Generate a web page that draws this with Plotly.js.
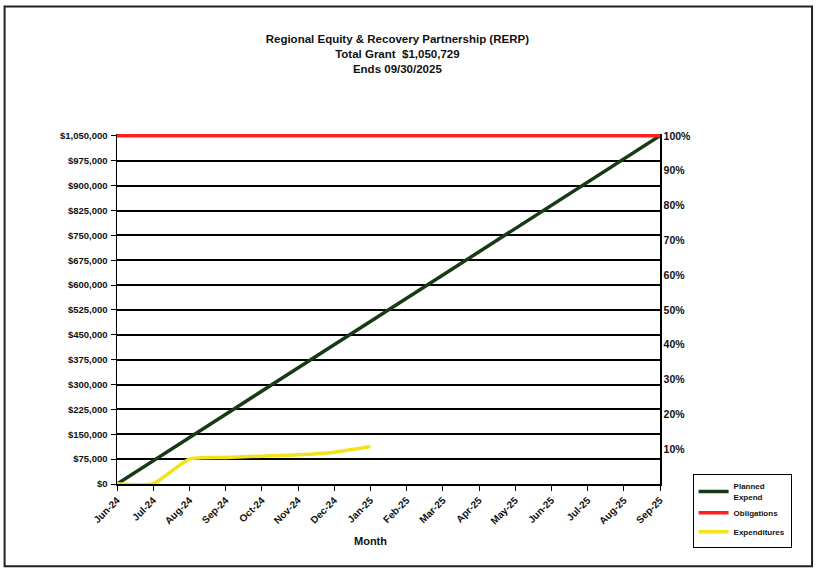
<!DOCTYPE html>
<html><head><meta charset="utf-8">
<script src="https://cdn.plot.ly/plotly-3.0.1.min.js"></script>
<style>html,body{margin:0;padding:0;background:#fff;}#chart{width:821px;height:570px;}</style>
</head><body><div id="chart"></div>
<script>
const months = ['Jun-24','Jul-24','Aug-24','Sep-24','Oct-24','Nov-24','Dec-24','Jan-25','Feb-25','Mar-25','Apr-25','May-25','Jun-25','Jul-25','Aug-25','Sep-25'];
const planned = [0,70049,140097,210146,280194,350243,420292,490340,560389,630437,700486,770535,840583,910632,980680,1050729];
const obligations = [1050729,1050729,1050729,1050729,1050729,1050729,1050729,1050729,1050729,1050729,1050729,1050729,1050729,1050729,1050729,1050729];
const expMonths = ['Jun-24','Jul-24','Aug-24','Sep-24','Oct-24','Nov-24','Dec-24','Jan-25'];
const expenditures = [1000,1000,75000,80000,84000,88000,96000,113000];
const leftTicks = [0,75000,150000,225000,300000,375000,450000,525000,600000,675000,750000,825000,900000,975000,1050000];
const pctTicks = [10,20,30,40,50,60,70,80,90,100];
const pctLabels = ['10%','20%','30%','40%','50%','60%','70%','80%','90%','100%'];

const fam = 'Liberation Sans, Arial, sans-serif';
function f(size, weight){ return {family:fam, color:'#111', size:size, weight:weight||'normal'}; }
const traces = [
  {x:months, y:planned, name:'Planned<br>Expend', mode:'lines', line:{color:'#163a16', width:3.5}},
  {x:months, y:obligations, name:'Obligations', mode:'lines', line:{color:'#ff2020', width:3.5}},
  {x:expMonths, y:expenditures, name:'Expenditures', mode:'lines', line:{color:'#f2e21a', width:3.5, shape:'spline', smoothing:0.6}},
  {x:[months[0], months[months.length-1]], y:[0,0], yaxis:'y2', mode:'lines', line:{width:0}, showlegend:false, hoverinfo:'skip'}
];
const layout = {
  width:821, height:570,
  margin:{l:117, r:161, t:134, b:86},
  paper_bgcolor:'#fff', plot_bgcolor:'#fff',
  font: f(10),
  title:{text:'Regional Equity &amp; Recovery Partnership (RERP)<br>Total Grant  $1,050,729<br>Ends 09/30/2025',
    font:f(11.5,'bold'), x:0.484, xanchor:'center', y:0.925, yanchor:'top'},
  xaxis:{type:'category', range:[0,15], tickangle:-45, ticks:'outside', ticklen:5, tickcolor:'#000',
    showline:true, linecolor:'#000', linewidth:1.5, showgrid:false, zeroline:false,
    tickfont:f(10,'bold')},
  yaxis:{range:[0,1056000], tickvals:leftTicks, tickformat:'$,', showgrid:true, gridcolor:'#000', gridwidth:2,
    showline:true, linecolor:'#000', linewidth:1.5, ticks:'outside', ticklen:5, tickcolor:'#000', zeroline:false,
    ticklabelstandoff:1, tickfont:f(9.5,'bold')},
  yaxis2:{overlaying:'y', side:'right', range:[0,100.57], tickvals:pctTicks, ticktext:pctLabels, showgrid:false,
    showline:true, linecolor:'#000', linewidth:1.5, zeroline:false, ticks:'',
    tickfont:f(10.5,'bold')},
  legend:{x:1.06, xanchor:'left', y:0.03, yanchor:'top', bordercolor:'#000', borderwidth:1, bgcolor:'#fff',
    font:f(8,'bold'), tracegroupgap:4},
  annotations:[{text:'<b>Month</b>', xref:'paper', yref:'paper', x:0.466, y:-0.163, xanchor:'center', yanchor:'middle',
    showarrow:false, font:f(11)}],
  shapes:[{type:'rect', xref:'paper', yref:'paper', x0:-0.207, x1:1.28, y0:-0.235, y1:1.364, line:{color:'#222', width:2}}],
  showlegend:true
};
Plotly.newPlot('chart', traces, layout, {displayModeBar:false, staticPlot:true});
</script></body></html>
